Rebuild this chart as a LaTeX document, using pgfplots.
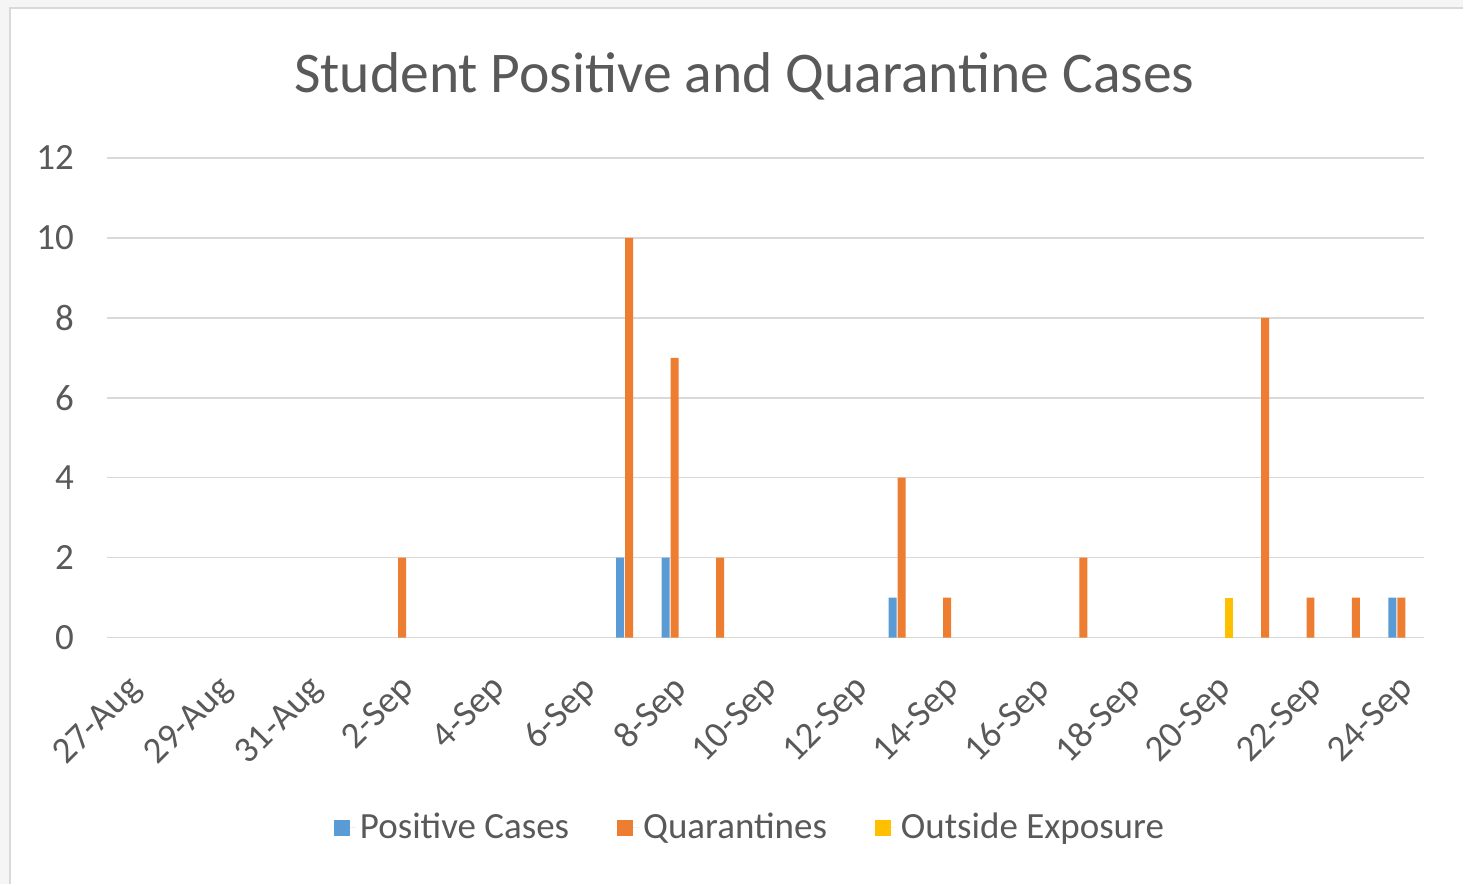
\documentclass[border=0pt]{standalone}
\usepackage{pgfplots}
\pgfplotsset{compat=1.18}
\usepackage{fontspec}
\setmainfont{Carlito}
\definecolor{cBlue}{HTML}{5B9BD5}
\definecolor{cOrange}{HTML}{ED7D31}
\definecolor{cYellow}{HTML}{FFC000}
\definecolor{cText}{HTML}{595959}
\definecolor{cGrid}{HTML}{D9D9D9}
\begin{document}
\begin{tikzpicture}
\fill[gray!8] (0,0) rectangle (732pt,-442.5pt);
\fill[white] (5pt,-4pt) rectangle (732pt,-442.5pt);
\draw[cGrid, line width=1pt] (5pt,-442.5pt) -- (5pt,-4pt) -- (732pt,-4pt);
\useasboundingbox (0,0) rectangle (732pt,-442.5pt);
\begin{axis}[
    at={(53.5pt,-319pt)}, anchor=south west,
    scale only axis, width=659pt, height=240pt,
    ybar, bar width=4pt,
    xmin=-0.5, xmax=28.5, ymin=0, ymax=12,
    ytick={0,2,...,12},
    xtick={0,2,...,28},
    xticklabels={27-Aug,29-Aug,31-Aug,2-Sep,4-Sep,6-Sep,8-Sep,10-Sep,12-Sep,14-Sep,16-Sep,18-Sep,20-Sep,22-Sep,24-Sep},
    ymajorgrids, grid style={cGrid, line width=0.8pt},
    axis line style={draw=none}, tick style={draw=none},
    /pgf/number format/assume math mode=true,
    ticklabel style={font=\fontsize{18.5}{22}\selectfont, text=cText},
    yticklabel style={xshift=-13pt},
    xticklabel style={xshift=-2pt, yshift=-8.5pt, rotate=45, anchor=north east},
    title={Student Positive and Quarantine Cases},
    title style={at={(0.484,1.146)}, anchor=center, font=\fontsize{28.8}{34}\selectfont, text=cText},
    legend style={at={(0.489,-0.396)}, anchor=center, draw=none, fill=none,
        legend columns=-1, font=\fontsize{18.5}{22}\selectfont, text=cText,
        /tikz/every even column/.append style={column sep=22pt}},
    legend image code/.code={\fill[#1] (0pt,-4pt) rectangle (8pt,4pt); \path (0pt,0pt) -- (11pt,0pt);},
]
\addplot[fill=cBlue, draw=none, bar shift=-4.5pt] coordinates {(11,2) (12,2) (17,1) (28,1)};
\addplot[fill=cOrange, draw=none, bar shift=0pt] coordinates {(6,2) (11,10) (12,7) (13,2) (17,4) (18,1) (21,2) (25,8) (26,1) (27,1) (28,1)};
\addplot[fill=cYellow, draw=none, bar shift=4.5pt] coordinates {(24,1)};
\legend{Positive Cases, Quarantines, Outside Exposure}
\end{axis}
\end{tikzpicture}
\end{document}
